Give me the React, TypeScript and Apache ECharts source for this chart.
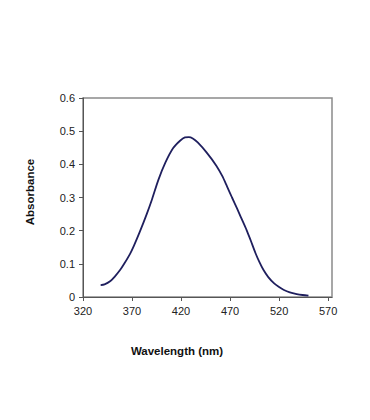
import React, { useEffect, useRef } from "react";
import * as echarts from "echarts";

const wavelengths = [338, 342, 348, 352, 358, 362, 368, 372, 378, 385, 390, 397, 404, 412, 419, 424, 428, 432, 437, 446, 456, 462, 467, 472, 477, 481, 487, 491, 496, 500, 504, 509, 515, 520, 525, 531, 538, 544, 550];
const absorbance = [0.036, 0.038, 0.048, 0.06, 0.082, 0.1, 0.13, 0.155, 0.197, 0.25, 0.291, 0.354, 0.405, 0.449, 0.471, 0.481, 0.482, 0.478, 0.466, 0.436, 0.396, 0.365, 0.333, 0.3, 0.268, 0.241, 0.201, 0.171, 0.132, 0.105, 0.082, 0.06, 0.041, 0.03, 0.021, 0.014, 0.009, 0.006, 0.004];
const xTitle = "Wavelength (nm)";
const yTitle = "Absorbance";

export default function App() {
  const ref = useRef<HTMLDivElement>(null);
  useEffect(() => {
    if (!ref.current) return;
    const chart = echarts.init(ref.current, null, { renderer: "svg" });
    const font = "Arial, 'Liberation Sans', sans-serif";
    chart.setOption({
      animation: false,
      backgroundColor: "#ffffff",
      grid: {
        left: 83,
        right: 38,
        top: 98,
        bottom: 123,
        show: true,
        borderColor: "#8a8a8a",
        borderWidth: 1.5,
      },
      xAxis: {
        type: "value",
        min: 320,
        max: 574,
        interval: 50,
        splitLine: { show: false },
        axisLine: { show: true, onZero: false, lineStyle: { color: "#555", width: 1 } },
        axisTick: { show: true, length: 4, lineStyle: { color: "#555" } },
        axisLabel: {
          showMaxLabel: false,
          margin: 8,
          fontSize: 11,
          color: "#222",
          fontFamily: font,
        },
      },
      yAxis: {
        type: "value",
        min: 0,
        max: 0.6,
        interval: 0.1,
        splitLine: { show: false },
        axisLine: { show: true, lineStyle: { color: "#555", width: 1 } },
        axisTick: { show: true, length: 4, lineStyle: { color: "#555" } },
        axisLabel: {
          margin: 8,
          fontSize: 11,
          color: "#222",
          fontFamily: font,
          formatter: (v: number) => (v === 0 ? "0" : String(Math.round(v * 10) / 10)),
        },
      },
      graphic: [
        {
          type: "text",
          x: 177,
          y: 351,
          style: {
            text: xTitle,
            fontSize: 11.5,
            fontWeight: "bold",
            fontFamily: font,
            fill: "#111",
            textAlign: "center",
            textVerticalAlign: "middle",
          },
        },
        {
          type: "text",
          x: 30,
          y: 192,
          rotation: Math.PI / 2,
          style: {
            text: yTitle,
            fontSize: 11.5,
            fontWeight: "bold",
            fontFamily: font,
            fill: "#111",
            textAlign: "center",
            textVerticalAlign: "middle",
          },
        },
      ],
      series: [
        {
          type: "line",
          data: wavelengths.map((w, i) => [w, absorbance[i]]),
          showSymbol: false,
          smooth: 0.3,
          lineStyle: { color: "#1f1f5e", width: 1.8 },
        },
      ],
    });
    return () => chart.dispose();
  }, []);
  return (
    <div
      ref={ref}
      style={{ position: "absolute", left: 0, top: 0, width: 370, height: 420 }}
    />
  );
}
